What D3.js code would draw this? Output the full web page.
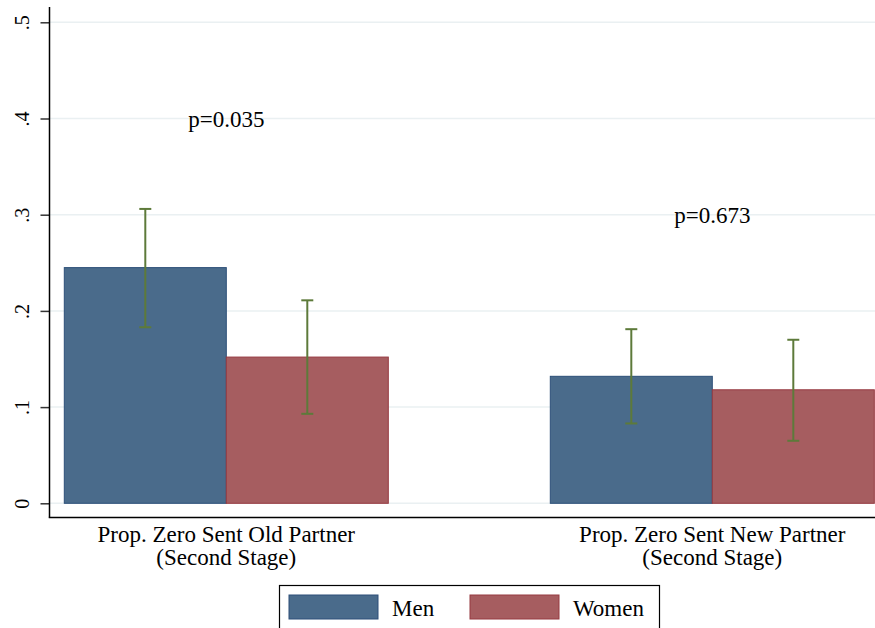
<!DOCTYPE html>
<html><head><meta charset="utf-8">
<script src="https://cdn.jsdelivr.net/npm/d3@7"></script>
<style>body{margin:0;background:#fff}svg{display:block}text{font-family:"Liberation Serif","Times New Roman",serif !important;fill:#000}</style>
</head><body>
<script>
const categories = ["Prop. Zero Sent Old Partner|(Second Stage)", "Prop. Zero Sent New Partner|(Second Stage)"];
const seriesNames = ["Men", "Women"];
const menValues = [0.245, 0.132];
const womenValues = [0.152, 0.118];
const menLow = [0.183, 0.083];
const menHigh = [0.306, 0.181];
const womenLow = [0.093, 0.065];
const womenHigh = [0.211, 0.170];
const pLabels = ["p=0.035", "p=0.673"];
const pLabelY = [0.4, 0.3];
const yTicks = [0, 0.1, 0.2, 0.3, 0.4, 0.5];
const yTickLabels = ["0", ".1", ".2", ".3", ".4", ".5"];

const W = 875, H = 628;
const svg = d3.select("body").append("svg").attr("width", W).attr("height", H);

const y = d3.scaleLinear().domain([0, 0.5]).range([503.3, 22.3]);
const x0 = d3.scaleBand().domain(categories).range([64.3, 874.3]).paddingInner(1/3).paddingOuter(0);
const x1 = d3.scaleBand().domain(seriesNames).range([0, x0.bandwidth()]).padding(0);

const fills = {Men: "#4a6b8b", Women: "#a65d60"};
const strokes = {Men: "#2c4f78", Women: "#963a40"};
const errColor = "#5d7a3a";

const axisX = 49.5, axisBottom = 517.5;

// gridlines
svg.append("g").selectAll("line").data(yTicks).join("line")
  .attr("x1", axisX).attr("x2", W)
  .attr("y1", d => y(d)).attr("y2", d => y(d))
  .attr("stroke", "#eaf0f2").attr("stroke-width", 1.5);

// bars
const rows = categories.map((c, i) => ({c, vals: [
  {s: "Men", v: menValues[i], lo: menLow[i], hi: menHigh[i]},
  {s: "Women", v: womenValues[i], lo: womenLow[i], hi: womenHigh[i]}]}));
const g = svg.append("g").selectAll("g").data(rows).join("g")
  .attr("transform", d => `translate(${x0(d.c)},0)`);
g.selectAll("rect").data(d => d.vals).join("rect")
  .attr("x", d => x1(d.s)).attr("width", x1.bandwidth())
  .attr("y", d => y(d.v)).attr("height", d => y(0) - y(d.v))
  .attr("fill", d => fills[d.s]).attr("stroke", d => strokes[d.s]).attr("stroke-width", 1);

// error bars
const eb = g.selectAll("g.eb").data(d => d.vals).join("g").attr("class", "eb")
  .attr("stroke", errColor).attr("stroke-width", 2);
eb.append("line").attr("x1", d => x1(d.s) + x1.bandwidth()/2).attr("x2", d => x1(d.s) + x1.bandwidth()/2)
  .attr("y1", d => y(d.lo)).attr("y2", d => y(d.hi));
eb.append("line").attr("x1", d => x1(d.s) + x1.bandwidth()/2 - 6).attr("x2", d => x1(d.s) + x1.bandwidth()/2 + 6)
  .attr("y1", d => y(d.lo)).attr("y2", d => y(d.lo));
eb.append("line").attr("x1", d => x1(d.s) + x1.bandwidth()/2 - 6).attr("x2", d => x1(d.s) + x1.bandwidth()/2 + 6)
  .attr("y1", d => y(d.hi)).attr("y2", d => y(d.hi));

// p labels
svg.append("g").selectAll("text").data(categories).join("text")
  .attr("x", d => x0(d) + x0.bandwidth()/2)
  .attr("y", (d, i) => y(pLabelY[i]))
  .attr("dy", "0.35em")
  .attr("text-anchor", "middle").attr("font-size", 23)
  .text((d, i) => pLabels[i]);

// y axis
const yAxis = d3.axisLeft(y).tickValues(yTicks).tickFormat((d, i) => yTickLabels[i]).tickSize(9).tickPadding(4);
const ya = svg.append("g").attr("transform", `translate(${axisX},0)`).call(yAxis)
  .attr("font-family", null).attr("font-size", null);
ya.select(".domain").remove();
ya.selectAll(".tick line").attr("stroke", "#333").attr("stroke-width", 1.5);
ya.selectAll(".tick text")
  .style("font-family", "'Liberation Serif', serif").style("font-size", "20px")
  .attr("fill", "#000")
  .attr("x", null).attr("dy", null).attr("y", 0).attr("text-anchor", "middle")
  .attr("transform", "translate(-21,0) rotate(-90)");
svg.append("line").attr("x1", axisX).attr("x2", axisX).attr("y1", 7).attr("y2", axisBottom)
  .attr("stroke", "#000").attr("stroke-width", 1.5);
svg.append("line").attr("x1", axisX - 0.75).attr("x2", W).attr("y1", axisBottom).attr("y2", axisBottom)
  .attr("stroke", "#000").attr("stroke-width", 1.5);

// x category labels
const xl = svg.append("g").selectAll("text").data(categories).join("text")
  .attr("x", d => x0(d) + x0.bandwidth()/2).attr("y", 542)
  .attr("text-anchor", "middle").attr("font-size", 23);
xl.selectAll("tspan").data(d => d.split("|")).join("tspan")
  .attr("x", function() { return d3.select(this.parentNode).attr("x"); })
  .attr("dy", (d, i) => i === 0 ? 0 : 23)
  .text(d => d);

// legend
const lg = svg.append("g");
lg.append("rect").attr("x", 279.5).attr("y", 585.5).attr("width", 380).attr("height", 60)
  .attr("fill", "#fff").attr("stroke", "#000").attr("stroke-width", 1.2);
const legX = [289, 470];
seriesNames.forEach((s, i) => {
  lg.append("rect").attr("x", legX[i]).attr("y", 595).attr("width", 89).attr("height", 24)
    .attr("fill", fills[s]).attr("stroke", strokes[s]).attr("stroke-width", 1);
  lg.append("text").attr("x", legX[i] + 103).attr("y", 616).attr("font-size", 23).text(s);
});
</script>
</body></html>
